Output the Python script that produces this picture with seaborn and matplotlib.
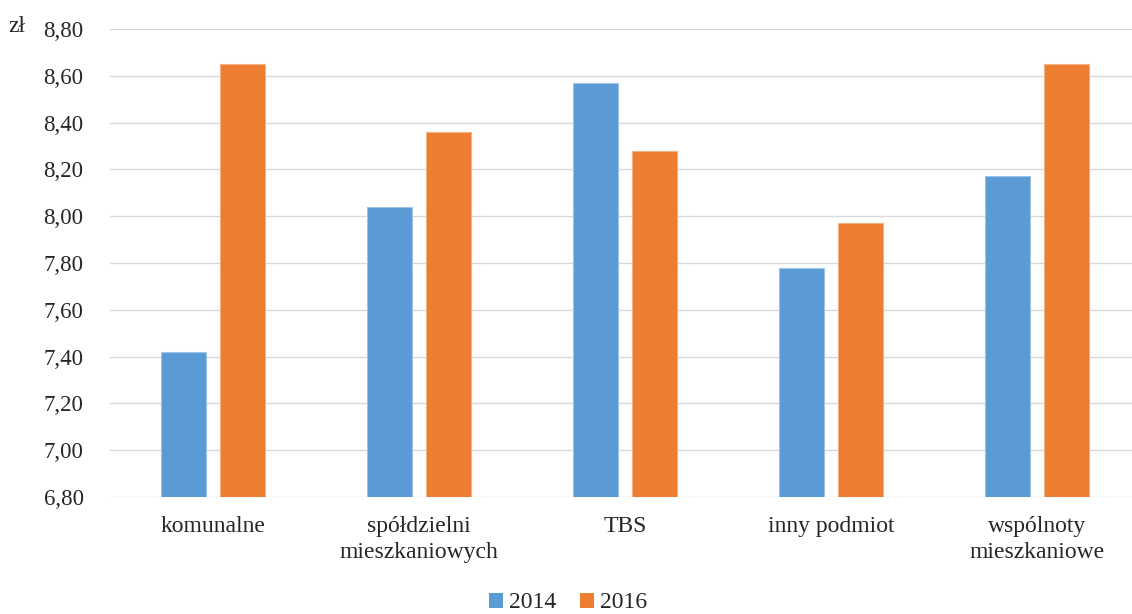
import numpy as np
import pandas as pd
import seaborn as sns
import matplotlib.pyplot as plt

sns.set_style("white")
plt.rcParams['font.family'] = ['Liberation Serif', 'DejaVu Serif']

# Data
categories = ["komunalne", "spółdzielni\nmieszkaniowych", "TBS", "inny podmiot", "wspólnoty\nmieszkaniowe"]
years = ["2014", "2016"]
values_2014 = [7.42, 8.04, 8.57, 7.78, 8.17]
values_2016 = [8.65, 8.36, 8.28, 7.97, 8.65]
y_ticks = [6.80, 7.00, 7.20, 7.40, 7.60, 7.80, 8.00, 8.20, 8.40, 8.60, 8.80]

df = pd.DataFrame({
    "kategoria": categories * 2,
    "rok": [years[0]] * 5 + [years[1]] * 5,
    "wartosc": values_2014 + values_2016,
})

colors = ["#5B9BD5", "#ED7D31"]
edge_colors = ["#9DC3E6", "#F4B183"]

fig = plt.figure(figsize=(11.32, 6.14), dpi=100)
ax = fig.add_axes([110 / 1132, 117 / 614, 1030 / 1132, 468 / 614])

sns.barplot(data=df, x="kategoria", y="wartosc", hue="rok", palette=colors,
            saturation=1, width=0.575, gap=0.235, ax=ax, linewidth=0)

# light edges like the original
for cont, ec in zip(ax.containers, edge_colors):
    for bar in cont:
        bar.set_edgecolor(ec)
        bar.set_linewidth(0.8)

ax.set_ylim(6.8, 8.8)
ax.set_yticks(y_ticks)
ax.set_yticklabels([f"{v:.2f}".replace(".", ",") for v in y_ticks])
ax.set_xlim(-0.5, 4.5)
ax.yaxis.grid(True, color="#D9D9D9", linewidth=1)
ax.set_axisbelow(True)
sns.despine(ax=ax, left=True, bottom=True, top=True, right=True)
ax.tick_params(axis="y", length=0, pad=19, labelsize=16.5)
ax.tick_params(axis="x", length=0, pad=14, labelsize=17)
for lbl in ax.get_xticklabels():
    lbl.set_linespacing(1.3)
ax.set_xlabel("")
ax.set_ylabel("")

fig.text(8 / 1132, 1 - 27 / 614, "zł", fontsize=17, va="center", ha="left")

ax.get_legend().remove()
handles, labels = ax.get_legend_handles_labels()
fig.legend(handles, labels, loc="center", bbox_to_anchor=(568 / 1132, 1 - 603 / 614),
           ncol=2, frameon=False, fontsize=17, handlelength=0.6, handleheight=0.6,
           handletextpad=0.25, columnspacing=1.0)

fig.savefig("out.png", dpi=100)
